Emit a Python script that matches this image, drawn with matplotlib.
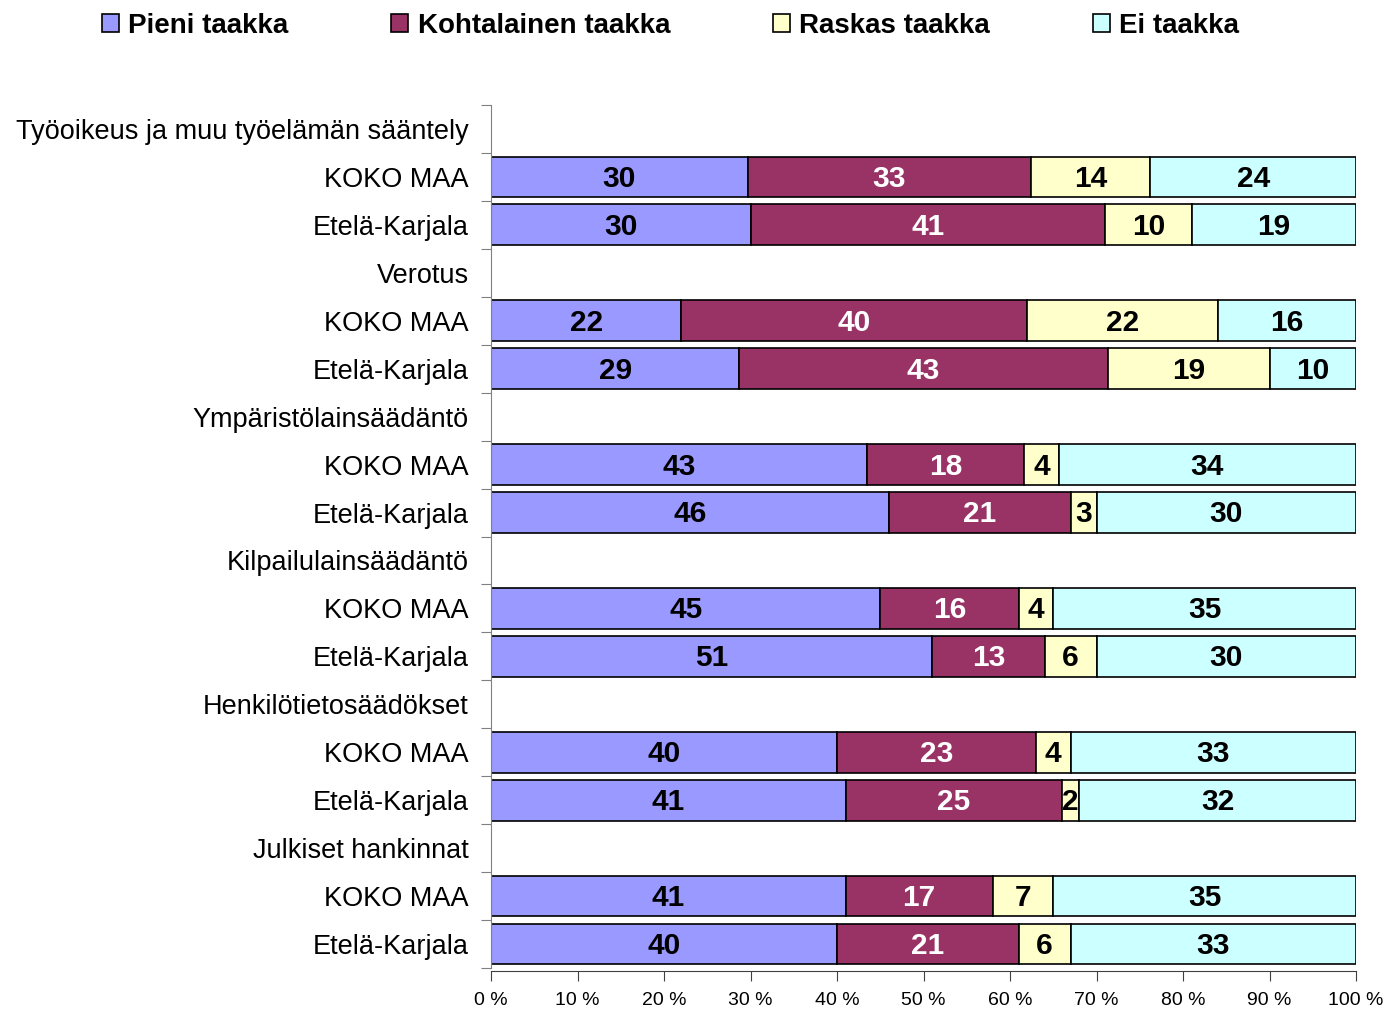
import numpy as np
import matplotlib.pyplot as plt
from matplotlib.patches import Patch

plt.rcParams['font.family'] = ['Liberation Sans', 'DejaVu Sans']

groups = [
    "Työoikeus ja muu työelämän sääntely",
    "Verotus",
    "Ympäristölainsäädäntö",
    "Kilpailulainsäädäntö",
    "Henkilötietosäädökset",
    "Julkiset hankinnat",
]
regions = ["KOKO MAA", "Etelä-Karjala"]
series = ["Pieni taakka", "Kohtalainen taakka", "Raskas taakka", "Ei taakka"]

# values per bar: KOKO MAA, Etelä-Karjala for each group
pieni = [30, 30, 22, 29, 43, 46, 45, 51, 40, 41, 41, 40]
kohtalainen = [33, 41, 40, 43, 18, 21, 16, 13, 23, 25, 17, 21]
raskas = [14, 10, 22, 19, 4, 3, 4, 6, 4, 2, 7, 6]
ei = [24, 19, 16, 10, 34, 30, 35, 30, 33, 32, 35, 33]

colors = ["#9999FF", "#993366", "#FFFFCC", "#CCFFFF"]
text_colors = ["black", "white", "black", "black"]

data = np.array([pieni, kohtalainen, raskas, ei], dtype=float)
shares = data / data.sum(axis=0) * 100

# row layout: header row then two bars per group
ypos = []
labels = []
for g, name in enumerate(groups):
    labels.append(name)
    labels.extend(regions)
    ypos.extend([3 * g + 1, 3 * g + 2])
ypos = np.array(ypos)

fig = plt.figure(figsize=(13.87, 10.10), dpi=100)
ax = fig.add_axes([491 / 1387, 1 - 968 / 1010, 865 / 1387, 863 / 1010])

# spine position first, it resets tick styling
for s in ["top", "right"]:
    ax.spines[s].set_visible(False)
ax.spines["left"].set_color("#808080")
ax.spines["bottom"].set_color("#404040")
ax.spines["bottom"].set_position(("outward", 2))

left = np.zeros(len(ypos))
for k in range(4):
    ax.barh(ypos, shares[k], left=left, height=0.85, color=colors[k],
            edgecolor="black", linewidth=1.2)
    for y, l, w, v in zip(ypos, left, shares[k], data[k]):
        ax.text(l + w / 2, y + 0.04, f"{int(v)}", ha="center", va="center",
                fontsize=21.5, fontweight="bold", color=text_colors[k])
    left += shares[k]

n_rows = 3 * len(groups)
ax.set_ylim(n_rows - 0.5, -0.5)
ax.set_xlim(0, 100)

ax.set_yticks(np.arange(-0.5, n_rows, 1))
ax.set_yticklabels([])
ax.set_yticks(np.arange(n_rows), minor=True)
ax.set_yticklabels(labels, minor=True)
ax.tick_params(axis="y", which="minor", length=0, pad=16, labelsize=19.5)
ax.tick_params(axis="y", which="major", length=7, color="#808080")

ax.set_xticks(np.arange(0, 101, 10))
ax.set_xticklabels([f"{t} %" for t in range(0, 101, 10)])
ax.tick_params(axis="x", length=7, pad=8, color="#404040", labelsize=14)

handles = [Patch(facecolor=c, edgecolor="black", linewidth=1.2) for c in colors]
fig.legend(handles, series, loc="upper left", bbox_to_anchor=(77 / 1387, 1.012),
           ncol=4, frameon=False, prop={"size": 20, "weight": "bold"},
           handlelength=0.6, handleheight=0.6, handletextpad=0.35,
           columnspacing=3.7)

fig.savefig("out.png", dpi=100)
